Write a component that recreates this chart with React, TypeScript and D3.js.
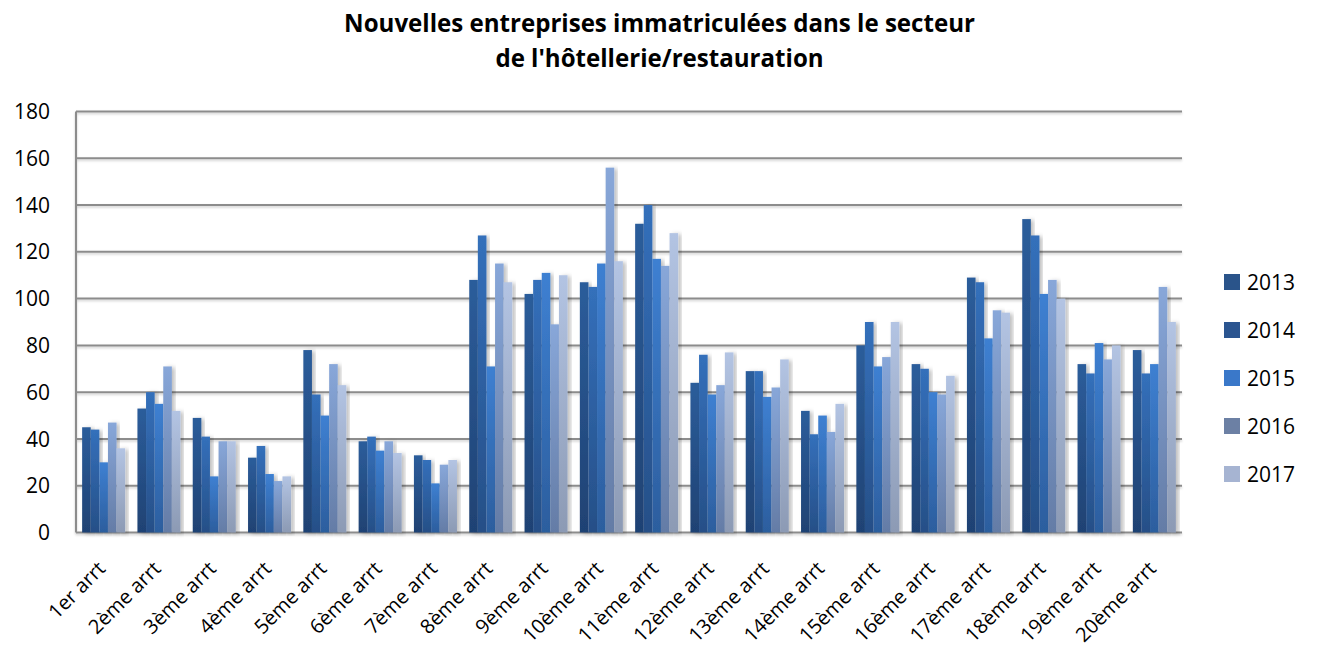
import React, { useLayoutEffect, useRef, useState } from "react";
import * as d3 from "d3";

const categories = [
  "1er arrt", "2ème arrt", "3ème arrt", "4ème arrt", "5ème arrt",
  "6ème arrt", "7ème arrt", "8ème arrt", "9ème arrt", "10ème arrt",
  "11ème arrt", "12ème arrt", "13ème arrt", "14ème arrt", "15ème arrt",
  "16ème arrt", "17ème arrt", "18ème arrt", "19ème arrt", "20ème arrt",
];
const years = ["2013", "2014", "2015", "2016", "2017"];
const v2013 = [45, 53, 49, 32, 78, 39, 33, 108, 102, 107, 132, 64, 69, 52, 80, 72, 109, 134, 72, 78];
const v2014 = [44, 60, 41, 37, 59, 41, 31, 127, 108, 105, 140, 76, 69, 42, 90, 70, 107, 127, 68, 68];
const v2015 = [30, 55, 24, 25, 50, 35, 21, 71, 111, 115, 117, 59, 58, 50, 71, 60, 83, 102, 81, 72];
const v2016 = [47, 71, 39, 22, 72, 39, 29, 115, 89, 156, 114, 63, 62, 43, 75, 59, 95, 108, 74, 105];
const v2017 = [36, 52, 39, 24, 63, 34, 31, 107, 110, 116, 128, 77, 74, 55, 90, 67, 94, 100, 80, 90];
const seriesValues = [v2013, v2014, v2015, v2016, v2017];
const yTicks = [0, 20, 40, 60, 80, 100, 120, 140, 160, 180];
const titleLines = ["Nouvelles entreprises immatriculées dans le secteur", "de l'hôtellerie/restauration"];

const topColors = ["#2c5d9b", "#3470bb", "#3e80d2", "#88a7d9", "#b3c4e3"];
const bottomColors = ["#1f4273", "#264f87", "#2c5e9e", "#647ca6", "#8c9ab4"];
const legendColors = ["#2a548a", "#2b5590", "#3a78c9", "#6c80a4", "#a6b4d2"];

const FONT = "'Open Sans', Lato, sans-serif";

export default function App() {
  const W = 1317, H = 650;
  const left = 76, right = 1182, top = 111.5, bottom = 532.5;
  const x0 = d3.scaleBand<string>().domain(categories).range([left, right]).paddingInner(0.222).paddingOuter(0.111);
  const x1 = d3.scaleBand<string>().domain(years).range([0, x0.bandwidth()]);
  const y = d3.scaleLinear().domain([0, 180]).range([bottom, top]);

  const titleRef = useRef<SVGTextElement>(null);
  const [titleSize, setTitleSize] = useState(24);
  useLayoutEffect(() => {
    if (titleRef.current && titleSize === 24) {
      const len = titleRef.current.getComputedTextLength();
      if (len > 0) setTitleSize((24 * 631) / len);
    }
  }, [titleSize]);

  return (
    <svg width={W} height={H} style={{ position: "absolute", left: 0, top: 0, background: "#fff" }}>
      <defs>
        {years.map((yr, i) => (
          <linearGradient key={yr} id={`g${i}`} x1="0" y1="0" x2="0" y2="1">
            <stop offset="0%" stopColor={topColors[i]} />
            <stop offset="100%" stopColor={bottomColors[i]} />
          </linearGradient>
        ))}
        <filter id="shadow" x="-20%" y="-5%" width="160%" height="110%">
          <feDropShadow dx="3" dy="1" stdDeviation="2" floodColor="#000" floodOpacity="0.25" />
        </filter>
        <filter id="lshadow" x="-5%" y="-50%" width="110%" height="400%">
          <feDropShadow dx="0" dy="1.5" stdDeviation="1" floodColor="#000" floodOpacity="0.2" />
        </filter>
      </defs>

      <text ref={titleRef} x={659.5} y={32} textAnchor="middle" fontFamily={FONT} fontWeight="bold" fontSize={titleSize} fill="#000">
        {titleLines[0]}
      </text>
      <text x={659.5} y={67} textAnchor="middle" fontFamily={FONT} fontWeight="bold" fontSize={titleSize} fill="#000">
        {titleLines[1]}
      </text>

      <g filter="url(#lshadow)">
        {yTicks.map((t) => (
          <line key={t} x1={left} x2={right} y1={y(t)} y2={y(t)} stroke="#8c8c8c" strokeWidth={2} />
        ))}
        <line x1={left} x2={left} y1={top} y2={bottom} stroke="#8c8c8c" strokeWidth={2} />
      </g>

      {yTicks.map((t) => (
        <text key={t} x={50} y={y(t)} dy="0.36em" textAnchor="end" fontFamily={FONT} fontSize={21} fill="#000">
          {t}
        </text>
      ))}

      {categories.map((c, ci) => (
        <g key={c} transform={`translate(${x0(c)},0)`}>
          {years.map((yr, si) => {
            const v = seriesValues[si][ci];
            return (
              <rect
                key={yr}
                x={x1(yr)}
                y={y(v)}
                width={x1.bandwidth()}
                height={y(0) - y(v)}
                fill={`url(#g${si})`}
                filter="url(#shadow)"
              />
            );
          })}
        </g>
      ))}

      {categories.map((c) => {
        const cx = (x0(c) as number) + x0.bandwidth() / 2;
        return (
          <text
            key={c}
            transform={`translate(${cx + 3},${570}) rotate(-45)`}
            textAnchor="end"
            fontFamily={FONT}
            fontSize={20}
            fill="#000"
          >
            {c}
          </text>
        );
      })}

      {years.map((yr, i) => {
        const ly = 282 + i * 48;
        return (
          <g key={yr}>
            <rect x={1224} y={ly - 8} width={16} height={16} fill={legendColors[i]} />
            <text x={1247} y={ly} dy="0.36em" fontFamily={FONT} fontSize={21} fill="#000">
              {yr}
            </text>
          </g>
        );
      })}
    </svg>
  );
}
